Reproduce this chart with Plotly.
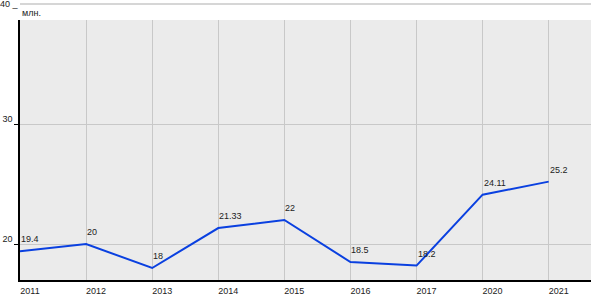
import plotly.graph_objects as go

years = ["2011", "2012", "2013", "2014", "2015", "2016", "2017", "2020", "2021"]
values = [19.4, 20, 18, 21.33, 22, 18.5, 18.2, 24.11, 25.2]
labels = ["19.4", "20", "18", "21.33", "22", "18.5", "18.2", "24.11", "25.2"]
y_ticks = [20, 30]
top_tick = 40
y_min, y_max = 17.0, 38.67
unit = "млн."

FONT = "Liberation Sans, Arial, sans-serif"
TXT = "#222222"

fig = go.Figure()
fig.add_trace(go.Scatter(
    x=years, y=values, mode="lines",
    line=dict(color="#0a40e0", width=2),
    hoverinfo="skip",
))

# value labels: category axes take the category's serial number
for i, (yv, t) in enumerate(zip(values, labels)):
    fig.add_annotation(x=i, y=yv, xref="x", yref="y", text=t, showarrow=False,
                       xanchor="left", yanchor="bottom", xshift=-1, yshift=5,
                       font=dict(family=FONT, size=9, color=TXT))

fig.update_layout(
    width=600, height=300,
    margin=dict(l=20, r=9, t=20, b=20, autoexpand=False),
    paper_bgcolor="white", plot_bgcolor="#ebebeb",
    showlegend=False,
    font=dict(family=FONT, size=9, color=TXT),
    xaxis=dict(
        type="category", range=[0, 8.64],
        showgrid=True, gridcolor="#c8c8c8", gridwidth=1,
        showline=True, linecolor="black", linewidth=1.5,
        ticks="", ticklabelshift=10, ticklabelstandoff=1, zeroline=False,
        tickfont=dict(family=FONT, size=9, color=TXT),
    ),
    yaxis=dict(
        range=[y_min, y_max],
        tickvals=y_ticks, ticktext=[str(v) for v in y_ticks],
        showgrid=True, gridcolor="#c8c8c8", gridwidth=1,
        showline=True, linecolor="black", linewidth=1.5,
        ticks="outside", ticklen=4, tickcolor="black", tickwidth=1,
        ticklabelshift=-5, zeroline=False,
        tickfont=dict(family=FONT, size=9, color=TXT),
    ),
)

# 40 level sits above the plot area: place it in paper units derived from the axis range
top_p = (top_tick - y_min) / (y_max - y_min)
fig.add_shape(type="line", xref="paper", yref="paper", x0=0, x1=1,
              y0=top_p, y1=top_p, line=dict(color="#c8c8c8", width=1.5))
fig.add_annotation(xref="paper", yref="paper", x=0, y=top_p, text=f"{top_tick} _",
                   showarrow=False, xanchor="right", yanchor="bottom",
                   xshift=1, yshift=-7,
                   font=dict(family=FONT, size=9, color=TXT))
fig.add_annotation(xref="paper", yref="paper", x=0, y=1, text=unit,
                   showarrow=False, xanchor="left", yanchor="bottom",
                   xshift=0, yshift=0,
                   font=dict(family=FONT, size=9, color=TXT))

fig.write_html("out.html")
